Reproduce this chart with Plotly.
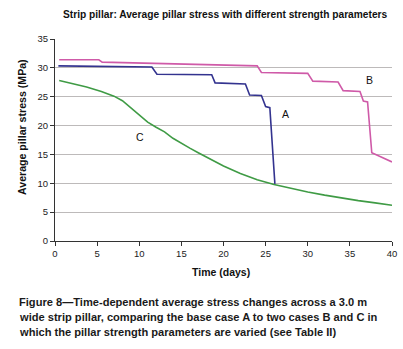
import plotly.graph_objects as go

# Case A (base case)
a_days = [0.4, 11.5, 12.1, 18.6, 19.0, 22.6, 23.1, 24.5, 25.0, 25.5, 26.1]
a_stress = [30.35, 30.15, 28.9, 28.8, 27.4, 27.2, 25.3, 25.2, 23.3, 23.1, 9.9]

# Case B
b_days = [0.5, 5.2, 5.6, 24.0, 24.5, 30.0, 30.6, 33.6, 34.2, 36.2, 36.6, 37.1, 37.6, 40.0]
b_stress = [31.4, 31.4, 31.0, 30.35, 29.2, 29.05, 27.7, 27.55, 26.05, 25.9, 24.25, 24.1, 15.3, 13.7]

# Case C
c_days = [0.5, 2, 3.75, 5.5, 7, 8, 9, 10, 11, 12, 13, 14, 15, 16, 17, 18, 19, 20, 22, 24, 26, 28, 30, 32, 34, 36, 38, 40]
c_stress = [27.8, 27.3, 26.7, 25.9, 25.1, 24.3, 23.1, 21.8, 20.6, 19.7, 18.9, 17.8, 16.9, 16.1, 15.3, 14.5, 13.7, 13.0,
            11.7, 10.6, 9.8, 9.1, 8.5, 7.95, 7.45, 7.0, 6.6, 6.2]

x_ticks = [0, 5, 10, 15, 20, 25, 30, 35, 40]
y_ticks = [0, 5, 10, 15, 20, 25, 30, 35]

labels = ["A", "B", "C"]
label_x = [27.4, 37.3, 10.1]
label_y = [22.0, 27.9, 18.0]

title = "Strip pillar: Average pillar stress with different strength parameters"
x_title = "Time (days)"
y_title = "Average pillar stress (MPa)"
caption_lines = [
    "Figure 8\u2014Time-dependent average stress changes across a 3.0 m",
    "wide strip pillar, comparing the base case A to two cases B and C in",
    "which the pillar strength parameters are varied (see Table II)",
]

FONT = "Liberation Sans, Arial, sans-serif"

fig = go.Figure()
fig.add_trace(go.Scatter(x=c_days, y=c_stress, mode="lines", line=dict(color="#3f9b45", width=1.6), showlegend=False))
fig.add_trace(go.Scatter(x=b_days, y=b_stress, mode="lines", line=dict(color="#cf5aa8", width=1.6), showlegend=False))
fig.add_trace(go.Scatter(x=a_days, y=a_stress, mode="lines", line=dict(color="#33338f", width=1.6), showlegend=False))

W, H = 403, 349
L, R, T, B = 55, 11, 39, 108
pw, ph = W - L - R, H - T - B


def px(xp):
    return (xp - L) / pw


def py(yp):
    return (H - B - yp) / ph


ann = []
for lab, lx, ly in zip(labels, label_x, label_y):
    ann.append(dict(x=lx, y=ly, xref="x", yref="y", text=lab, showarrow=False,
                    font=dict(family=FONT, size=10.5, color="#111")))

ann.append(dict(x=px(225), y=py(15), xref="paper", yref="paper", text="<b>" + title + "</b>",
                showarrow=False, font=dict(family=FONT, size=10.2, color="#111"), xanchor="center", yanchor="middle"))
ann.append(dict(x=px(221), y=py(272), xref="paper", yref="paper", text="<b>" + x_title + "</b>",
                showarrow=False, font=dict(family=FONT, size=10.5, color="#111"), xanchor="center", yanchor="middle"))
ann.append(dict(x=px(22), y=py(127), xref="paper", yref="paper", text="<b>" + y_title + "</b>", textangle=-90,
                showarrow=False, font=dict(family=FONT, size=10.6, color="#111"), xanchor="center", yanchor="middle"))
for i, line in enumerate(caption_lines):
    ann.append(dict(x=px(17), y=py(302 + 15 * i), xref="paper", yref="paper", text="<b>" + line + "</b>",
                    showarrow=False, font=dict(family=FONT, size=11.1, color="#1a1a1a"),
                    xanchor="left", yanchor="middle", align="left"))

fig.update_layout(
    width=W, height=H,
    margin=dict(l=L, r=R, t=T, b=B),
    paper_bgcolor="white", plot_bgcolor="white",
    font=dict(family=FONT, size=9, color="#222"),
    annotations=ann,
    xaxis=dict(range=[0, 40], tickvals=x_ticks, showgrid=False, zeroline=False, automargin=False,
               showline=True, linecolor="#333", linewidth=1, ticks="outside", ticklen=4,
               tickcolor="#333", tickfont=dict(size=9.5)),
    yaxis=dict(range=[0, 35], tickvals=y_ticks, showgrid=True, gridcolor="#bdbaba", gridwidth=1,
               zeroline=False, showline=True, linecolor="#333", linewidth=1, ticks="outside", ticklen=4,
               tickcolor="#333", tickfont=dict(size=9.5), automargin=False),
)

fig.write_html(
    "out.html",
    config={"displayModeBar": False},
    post_script="document.body.style.margin='0';document.body.style.overflow='hidden';",
)
